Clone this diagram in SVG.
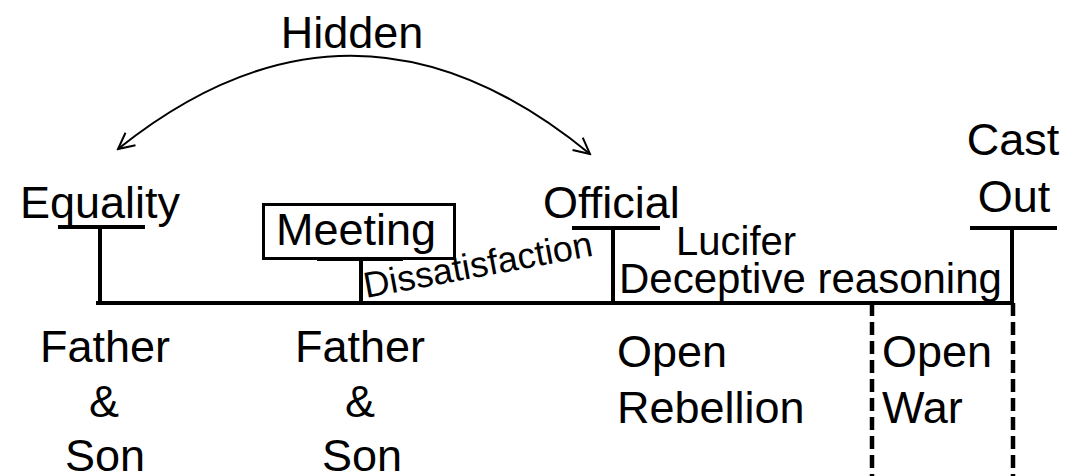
<svg xmlns="http://www.w3.org/2000/svg" width="1069" height="476" viewBox="0 0 1069 476">
  <style>
    text { font-family: "Liberation Sans", Arial, sans-serif; fill: #000; }
    .big { font-size: 45px; }
    .mid { font-size: 42px; }
    .bar { stroke: #000; stroke-width: 4; fill: none; }
    .dash { stroke: #000; stroke-width: 4.5; fill: none; stroke-dasharray: 13 6; }
    .arc { stroke: #000; stroke-width: 2; fill: none; }
  </style>
  <defs>
    <marker id="open" viewBox="0 0 20 20" refX="18" refY="10" markerWidth="20" markerHeight="20" markerUnits="userSpaceOnUse" orient="auto-start-reverse">
      <path d="M2,2 L18,10 L2,18" fill="none" stroke="#000" stroke-width="2"/>
    </marker>
  </defs>
  <rect width="1069" height="476" fill="#fff"/>

  <g id="connectors">
    <path class="arc" d="M118,149 Q354,-40 590,154" marker-start="url(#open)" marker-end="url(#open)"/>
    <path class="bar" d="M96,303 H1014"/>
    <path class="dash" d="M872,303 V476"/>
    <path class="dash" d="M1013,303 V476"/>
  </g>

  <g id="hidden">
    <text class="big" x="352" y="48" text-anchor="middle">Hidden</text>
  </g>

  <g id="equality">
    <text class="big" x="20" y="218">Equality</text>
    <path class="bar" d="M58,227 H145 M100,227 V303"/>
  </g>

  <g id="meeting">
    <rect x="263.5" y="204.5" width="191" height="54" fill="none" stroke="#000" stroke-width="3"/>
    <text class="big" x="276" y="245">Meeting</text>
    <path class="bar" d="M317,259 H403 M361,259 V303"/>
  </g>

  <g id="dissatisfaction">
    <text font-size="36" transform="translate(366,298) rotate(-10.5)">Dissatisfaction</text>
  </g>

  <g id="official">
    <text class="big" x="543" y="218">Official</text>
    <path class="bar" d="M572,228 H660 M613,228 V303"/>
  </g>

  <g id="lucifer">
    <text font-size="40" x="676" y="255">Lucifer</text>
    <text class="mid" x="619" y="293">Deceptive reasoning</text>
  </g>

  <g id="cast-out">
    <text class="big" x="1013" y="155" text-anchor="middle">Cast</text>
    <text class="big" x="1014" y="212" text-anchor="middle">Out</text>
    <path class="bar" d="M970,228 H1057 M1012,228 V303"/>
  </g>

  <g id="father-son-1">
    <text class="big" x="105" y="362" text-anchor="middle">Father</text>
    <text class="big" x="104" y="417" text-anchor="middle">&amp;</text>
    <text class="big" x="105" y="471" text-anchor="middle">Son</text>
  </g>

  <g id="father-son-2">
    <text class="big" x="360" y="362" text-anchor="middle">Father</text>
    <text class="big" x="360" y="417" text-anchor="middle">&amp;</text>
    <text class="big" x="362" y="471" text-anchor="middle">Son</text>
  </g>

  <g id="open-rebellion">
    <text class="big" x="617" y="367">Open</text>
    <text class="big" x="617" y="423">Rebellion</text>
  </g>

  <g id="open-war">
    <text class="big" x="882" y="367">Open</text>
    <text class="big" x="882" y="423">War</text>
  </g>
</svg>
